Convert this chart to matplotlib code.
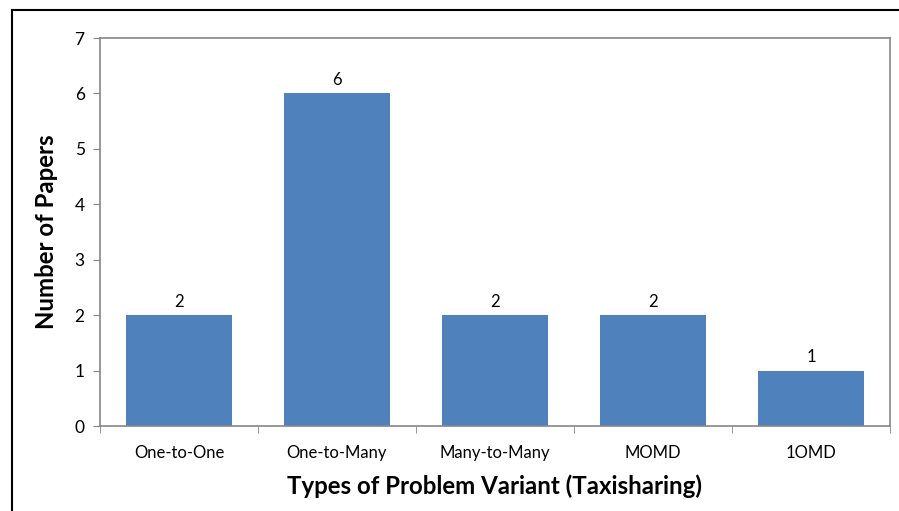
import matplotlib.pyplot as plt
from matplotlib.lines import Line2D
import numpy as np

variants = ["One-to-One", "One-to-Many", "Many-to-Many", "MOMD", "1OMD"]
papers = [2, 6, 2, 2, 1]

plt.rcParams['font.family'] = ['Lato', 'DejaVu Sans']

fig = plt.figure(figsize=(8.99, 5.11), dpi=100)
ax = fig.add_axes([0.1112, 0.1663, 0.8788, 0.7593])

x = np.arange(len(variants))
bars = ax.bar(x, papers, width=0.665, color="#4F81BD", zorder=2)
ax.bar_label(bars, padding=4, fontsize=12, color="black")

ax.set_xlim(-0.5, len(variants) - 0.5)
ax.set_ylim(0, 7)
ax.set_yticks(range(0, 8))
ax.set_xticks(x)
ax.set_xticklabels(variants)
# category boundary ticks
ax.set_xticks(np.arange(-0.5, len(variants)), minor=True)
ax.tick_params(axis='x', which='major', length=0, pad=14, labelsize=12)
ax.tick_params(axis='x', which='minor', length=5, color="#868686")
ax.tick_params(axis='y', length=5, color="#868686", labelsize=12.5, pad=6)

for s in ax.spines.values():
    s.set_color("#868686")
    s.set_linewidth(1.2)

ax.set_xlabel("Types of Problem Variant (Taxisharing)", fontsize=17.3, fontweight="bold", labelpad=9)
ax.set_ylabel("Number of Papers", fontsize=17.3, fontweight="bold", labelpad=12)

# outer chart frame
fig.add_artist(Line2D([12/899, 12/899], [0, 1 - 10/511], color="black", linewidth=1.5))
fig.add_artist(Line2D([12/899, 1], [1 - 10/511, 1 - 10/511], color="black", linewidth=1.5))

fig.savefig("out.png", dpi=100)
